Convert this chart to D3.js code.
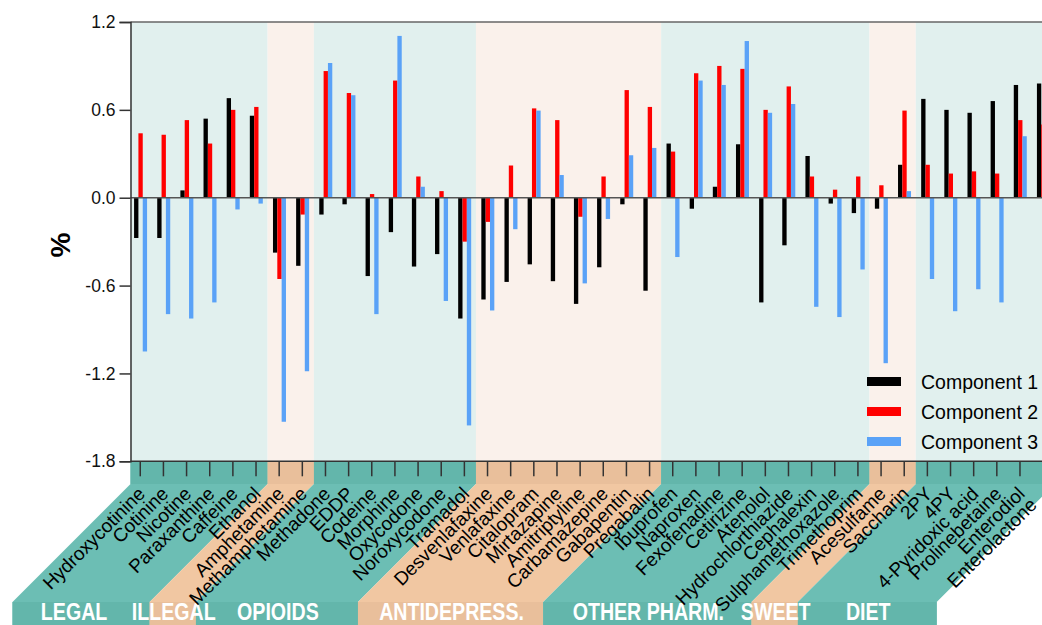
<!DOCTYPE html>
<html>
<head>
<meta charset="utf-8">
<script src="https://cdn.jsdelivr.net/npm/d3@7"></script>
<style>
  html, body { margin: 0; padding: 0; background: #fff; overflow: hidden; }
  svg { display: block; font-family: "Liberation Sans", Arial, sans-serif; }
</style>
</head>
<body>
<svg id="chart" width="1042" height="625"></svg>
<script>

// Compounds, in plot order.
var compounds = [
  'Hydroxycotinine', 'Cotinine', 'Nicotine', 'Paraxanthine', 'Caffeine', 'Ethanol',
  'Amphetamine', 'Methamphetamine',
  'Methadone', 'EDDP', 'Codeine', 'Morphine', 'Oxycodone', 'Noroxycodone', 'Tramadol',
  'Desvenlafaxine', 'Venlafaxine', 'Citalopram', 'Mirtazapine', 'Amitriptyline',
  'Carbamazepine', 'Gabapentin', 'Pregabalin',
  'Ibuprofen', 'Naproxen', 'Fexofenadine', 'Cetirizine', 'Atenolol', 'Hydrochlorthiazide',
  'Cephalexin', 'Sulphamethoxazole', 'Trimethoprim',
  'Acesulfame', 'Saccharin',
  '2PY', '4PY', '4-Pyridoxic acid', 'Prolinebetaine', 'Enterodiol', 'Enterolactone'
];

// Groups: label and how many compounds belong to each.
var groupNames = ['LEGAL', 'ILLEGAL', 'OPIOIDS', 'ANTIDEPRESS.', 'OTHER PHARM.', 'SWEET', 'DIET'];
var groupSizes = [6, 2, 7, 8, 9, 2, 6];

// Series.
var seriesNames = ['Component 1', 'Component 2', 'Component 3'];

var component1 = [
  -0.275, -0.275, 0.05, 0.54, 0.68, 0.56,
  -0.375, -0.465,
  -0.115, -0.045, -0.535, -0.235, -0.47, -0.385, -0.825,
  -0.695, -0.575, -0.455, -0.57, -0.725, -0.475, -0.045, -0.635,
  0.37, -0.075, 0.075, 0.365, -0.715, -0.325, 0.285, -0.04, -0.105,
  -0.075, 0.225,
  0.675, 0.60, 0.58, 0.66, 0.77, 0.78
];

var component2 = [
  0.44, 0.43, 0.53, 0.37, 0.60, 0.62,
  -0.555, -0.115,
  0.865, 0.715, 0.025, 0.80, 0.145, 0.045, -0.30,
  -0.165, 0.22, 0.61, 0.53, -0.13, 0.145, 0.735, 0.62,
  0.315, 0.85, 0.90, 0.88, 0.60, 0.76, 0.145, 0.055, 0.145,
  0.085, 0.595,
  0.225, 0.165, 0.18, 0.165, 0.53, 0.50
];

var component3 = [
  -1.05, -0.795, -0.825, -0.715, -0.08, -0.04,
  -1.53, -1.185,
  0.92, 0.70, -0.795, 1.105, 0.075, -0.705, -1.555,
  -0.77, -0.215, 0.595, 0.155, -0.585, -0.145, 0.29, 0.34,
  -0.405, 0.80, 0.77, 1.07, 0.58, 0.64, -0.745, -0.815, -0.49,
  -1.13, 0.045,
  -0.555, -0.775, -0.625, -0.715, 0.42, 0.40
];

var yTicks = [1.2, 0.6, 0.0, -0.6, -1.2, -1.8];

// Colors.
var seriesColors = ['#000000', '#ff0000', '#5aa2f7'];
var panelColors = ['#e1f0ee', '#faf1eb'];
var stripLight = ['#6cbeb4', '#f1c7a2'];
var stripDark = ['#63b6ab', '#e9bf9b'];

/*
 * Layout.
 */
var svg = d3.select('#chart');
var width = 1042;
var axisX = 130.5;
var plotTop = 22;
var plotBottom = 461.3;
var slant = 118;

var x = d3.scaleBand()
  .domain(compounds)
  .range([128.7, 128.7 + compounds.length * 23.15])
  .padding(0);

var sub = d3.scaleBand()
  .domain(seriesNames)
  .range([-6.2, 6.8])
  .padding(0);

var y = d3.scaleLinear()
  .domain([-1.8, 1.2])
  .range([plotBottom, plotTop]);

// Group extents.
var groups = [];
var start = 0;
groupNames.forEach(function(name, i) {
  var first = compounds[start];
  var last = compounds[start + groupSizes[i] - 1];
  groups.push({
    name: name,
    x0: Math.max(x(first), axisX),
    x1: x(last) + x.bandwidth(),
    kind: i % 2,
    // First label sits a bit left of its strip's middle.
    nudge: i === 0 ? -8 : 0
  });
  start += groupSizes[i];
});

// Background panels.
svg.append('g').selectAll('rect')
  .data(groups).enter().append('rect')
  .attr('x', function(d) { return d.x0; })
  .attr('y', plotTop)
  .attr('width', function(d) { return d.x1 - d.x0; })
  .attr('height', plotBottom - plotTop)
  .attr('fill', function(d) { return panelColors[d.kind]; });

// Slanted strips under the axis.
var stripTop = 484;
var stripBottom = stripTop + slant;
var strips = svg.append('g');

strips.selectAll('polygon')
  .data(groups).enter().append('polygon')
  .attr('points', function(d) {
    return [
      [d.x0, plotBottom], [d.x1, plotBottom], [d.x1, stripTop],
      [d.x1 - slant, stripBottom], [d.x1 - slant, 625],
      [d.x0 - slant, 625], [d.x0 - slant, stripBottom], [d.x0, stripTop]
    ].join(' ');
  })
  .attr('fill', function(d) { return stripLight[d.kind]; });

// Darker top band.
strips.selectAll('rect.top')
  .data(groups).enter().append('rect')
  .attr('class', 'top')
  .attr('x', function(d) { return d.x0; })
  .attr('y', plotBottom)
  .attr('width', function(d) { return d.x1 - d.x0; })
  .attr('height', stripTop - plotBottom)
  .attr('fill', function(d) { return stripDark[d.kind]; });

// Darker bottom band.
strips.selectAll('rect.bottom')
  .data(groups).enter().append('rect')
  .attr('class', 'bottom')
  .attr('x', function(d) { return d.x0 - slant; })
  .attr('y', stripBottom)
  .attr('width', function(d) { return d.x1 - d.x0; })
  .attr('height', 625 - stripBottom)
  .attr('fill', function(d) { return stripDark[d.kind]; });

// Group labels, tall and condensed.
strips.selectAll('text')
  .data(groups).enter().append('text')
  .attr('transform', function(d) {
    var cx = (d.x0 + d.x1) / 2 - slant + 1 + d.nudge;
    return 'translate(' + cx + ',619.5) scale(0.8,1)';
  })
  .attr('text-anchor', 'middle')
  .attr('fill', '#fff')
  .attr('font-weight', 'bold')
  .attr('font-size', 24.5)
  .text(function(d) { return d.name; });

// Frame line at the top.
svg.append('line')
  .attr('x1', axisX).attr('x2', width)
  .attr('y1', plotTop).attr('y2', plotTop)
  .attr('stroke', '#666').attr('stroke-width', 1.5);

/*
 * Bars.
 */
var series = [component1, component2, component3];
var bars = svg.append('g');

series.forEach(function(values, s) {
  bars.append('g').selectAll('rect')
    .data(values).enter().append('rect')
    .attr('x', function(d, i) {
      return x(compounds[i]) + x.bandwidth() / 2 + sub(seriesNames[s]); })
    .attr('y', function(d) { return Math.min(y(d), y(0)); })
    .attr('width', sub.bandwidth())
    .attr('height', function(d) { return Math.abs(y(d) - y(0)); })
    .attr('fill', seriesColors[s]);
});

// Zero line.
svg.append('line')
  .attr('x1', axisX).attr('x2', width)
  .attr('y1', y(0)).attr('y2', y(0))
  .attr('stroke', '#555').attr('stroke-width', 1.5);

/*
 * Axes.
 */
var yAxis = d3.axisLeft(y)
  .tickValues(yTicks)
  .tickSize(11)
  .tickPadding(4)
  .tickFormat(d3.format('.1f'));

var yg = svg.append('g')
  .attr('transform', 'translate(' + axisX + ',0)')
  .call(yAxis);

yg.select('.domain').attr('stroke', '#333').attr('stroke-width', 1.5);
yg.selectAll('.tick line').attr('stroke', '#333').attr('stroke-width', 1.5);
yg.selectAll('.tick text')
  .attr('font-size', 17.5)
  .attr('font-family', '"Liberation Sans", Arial, sans-serif')
  .attr('fill', '#111')
  .text(function(d) { return d3.format('.1f')(d).replace('−', '-'); });

var xAxis = d3.axisBottom(x)
  .tickSize(15)
  .tickFormat('');

var xg = svg.append('g')
  .attr('transform', 'translate(0,' + plotBottom + ')')
  .call(xAxis);

xg.select('.domain').remove();
xg.selectAll('.tick line').attr('stroke', '#333').attr('stroke-width', 1.5);

// Bottom axis line.
svg.append('line')
  .attr('x1', axisX).attr('x2', width)
  .attr('y1', plotBottom).attr('y2', plotBottom)
  .attr('stroke', '#333').attr('stroke-width', 1.5);

// Compound labels, slanted. Labels that would run off the right edge
// slide down along their own diagonal.
svg.append('g').selectAll('text')
  .data(compounds).enter().append('text')
  .attr('transform', function(d) {
    var cx = x(d) + x.bandwidth() / 2 + 6;
    var cy = 495;
    var over = cx + 3 - (width - 1);
    if (over > 0) { cx -= over; cy += over; }
    return 'translate(' + cx + ',' + cy + ') rotate(-45)';
  })
  .attr('text-anchor', 'end')
  .attr('font-size', 19)
  .attr('fill', '#000')
  .text(function(d) { return d; });

// Y label.
svg.append('text')
  .attr('transform', 'translate(70,245) rotate(-90)')
  .attr('text-anchor', 'middle')
  .attr('font-weight', 'bold')
  .attr('font-size', 28)
  .text('%');

/*
 * Legend.
 */
var legend = svg.append('g').selectAll('g')
  .data(seriesNames).enter().append('g')
  .attr('transform', function(d, i) {
    return 'translate(867,' + (381.5 + i * 30) + ')'; });

legend.append('rect')
  .attr('x', 0).attr('y', -4.5)
  .attr('width', 34).attr('height', 9)
  .attr('fill', function(d, i) { return seriesColors[i]; });

legend.append('text')
  .attr('x', 54).attr('y', 7.5)
  .attr('font-size', 19.5)
  .attr('fill', '#000')
  .text(function(d) { return d; });

</script>
</body>
</html>
